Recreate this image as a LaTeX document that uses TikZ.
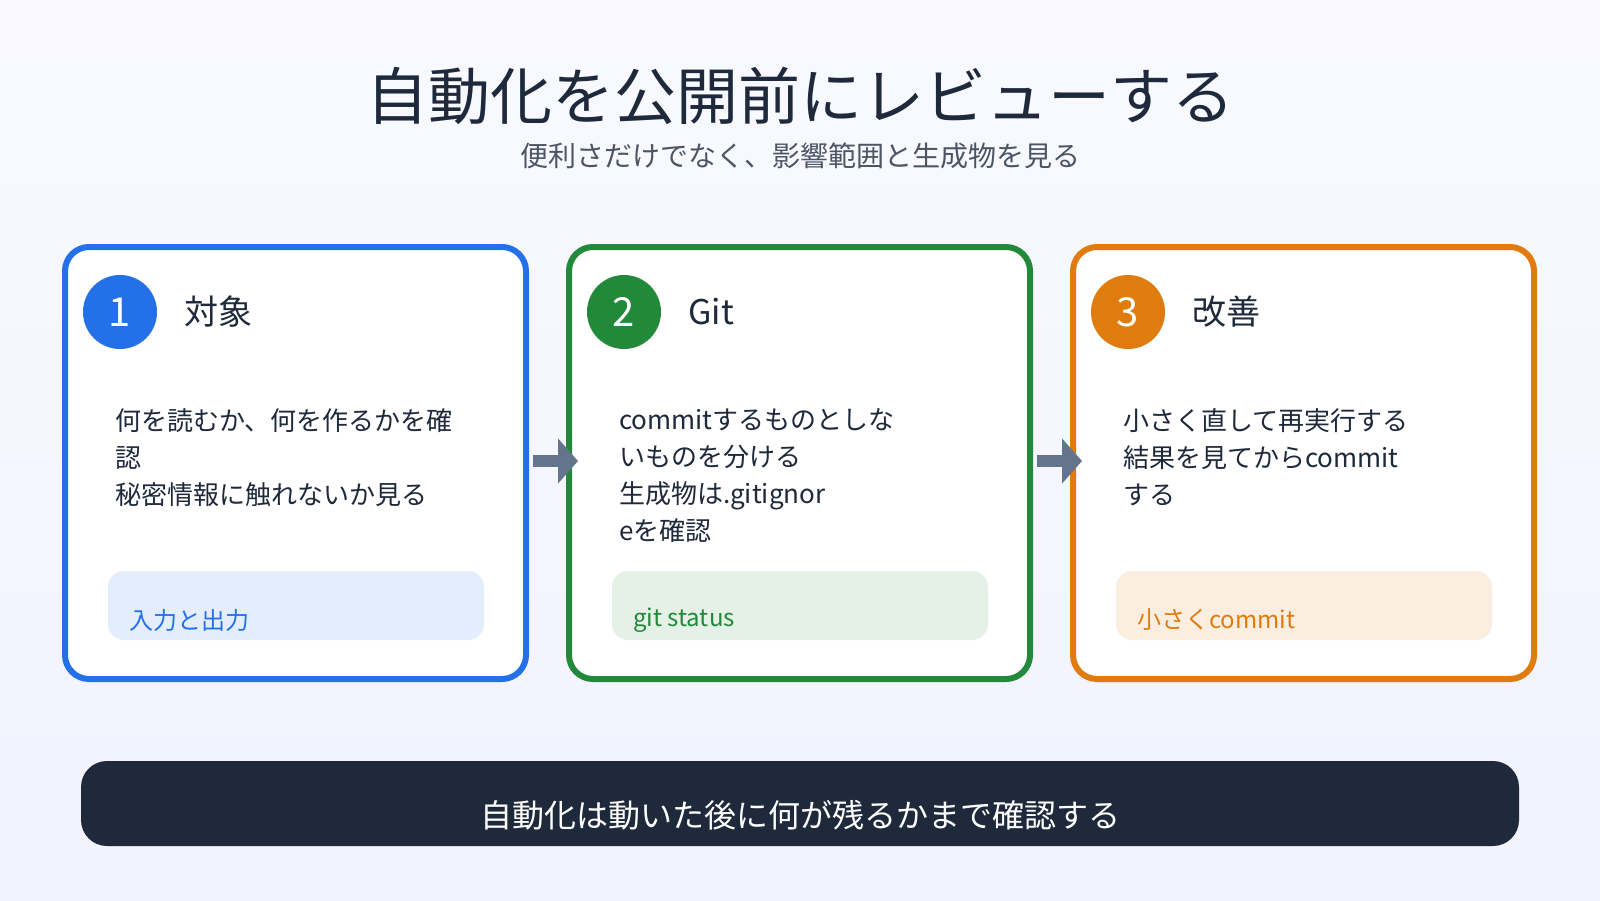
\documentclass[tikz,border=0pt]{standalone}
\usepackage{fontspec}
\setmainfont{Noto Sans CJK JP}
\usetikzlibrary{positioning, arrows.meta}
\definecolor{cblue}{HTML}{2370E8}
\definecolor{cgreen}{HTML}{22893A}
\definecolor{corange}{HTML}{E07B0D}
\definecolor{tblue}{HTML}{E4EDFB}
\definecolor{tgreen}{HTML}{E5F0E7}
\definecolor{torange}{HTML}{FBEEE0}
\definecolor{ink}{HTML}{1E293B}
\definecolor{sub}{HTML}{4B5563}
\definecolor{arr}{HTML}{64748B}
\begin{document}
\begin{tikzpicture}[x=0.5pt, y=-0.5pt,
    card/.style={draw=#1, line width=3pt, rounded corners=12pt, fill=white},
    tagbox/.style={fill=#1, rounded corners=8pt},
    num/.style={circle, fill=#1, minimum size=37pt, inner sep=0pt, text=white, font=\fontsize{20}{20}\selectfont},
    head/.style={anchor=west, text=ink, font=\fontsize{17}{17}\selectfont},
    body/.style={anchor=north west, align=left, text=ink, font=\fontsize{13}{18.5}\selectfont},
    tagtext/.style={anchor=west, text=#1, font=\fontsize{12}{12}\selectfont},
    flow/.style={-{Triangle[length=10pt,width=22pt]}, line width=6pt, draw=arr}]
    \useasboundingbox (0,0) rectangle (1600,900);
    \shade[top color=white!40!blue!4, bottom color=blue!5] (0,0) rectangle (1600,900);

    \node[text=ink, font=\fontsize{31}{31}\selectfont] (title) at (800,96) {自動化を公開前にレビューする};
    \node[text=sub, font=\fontsize{14}{14}\selectfont] (subtitle) at (800,156) {便利さだけでなく、影響範囲と生成物を見る};

    % cards
    \draw[card=cblue] (65,247) rectangle (526,679);
    \draw[card=cgreen] (569,247) rectangle (1030,679);
    \draw[card=corange] (1073,247) rectangle (1534,679);

    \node[num=cblue] (n1) at (120,312) {1};
    \node[num=cgreen] (n2) at (624,312) {2};
    \node[num=corange] (n3) at (1128,312) {3};
    \node[head, right=10pt of n1] (h1) {対象};
    \node[head, right=10pt of n2] (h2) {Git};
    \node[head, right=10pt of n3] (h3) {改善};

    \node[body] (b1) at (108,402) {何を読むか、何を作るかを確\\認\\秘密情報に触れないか見る};
    \node[body] (b2) at (612,402) {commitするものとしな\\いものを分ける\\生成物は.gitignor\\eを確認};
    \node[body] (b3) at (1116,402) {小さく直して再実行する\\結果を見てからcommit\\する};

    \fill[tagbox=tblue] (108,571) rectangle (484,640);
    \fill[tagbox=tgreen] (612,571) rectangle (988,640);
    \fill[tagbox=torange] (1116,571) rectangle (1492,640);
    \node[tagtext=cblue] (t1) at (122,620) {入力と出力};
    \node[tagtext=cgreen] (t2) at (626,620) {git status};
    \node[tagtext=corange] (t3) at (1130,620) {小さくcommit};

    % arrows
    \coordinate (a1) at (533,461);
    \coordinate (a2) at (578,461);
    \coordinate (a3) at (1037,461);
    \coordinate (a4) at (1082,461);
    \draw[flow] (a1) -- (a2);
    \draw[flow] (a3) -- (a4);

    % footer
    \fill[ink, rounded corners=13pt] (81,761) rectangle (1519,846);
    \node[text=white, font=\fontsize{16}{16}\selectfont] (foot) at (800,815) {自動化は動いた後に何が残るかまで確認する};
\end{tikzpicture}
\end{document}
